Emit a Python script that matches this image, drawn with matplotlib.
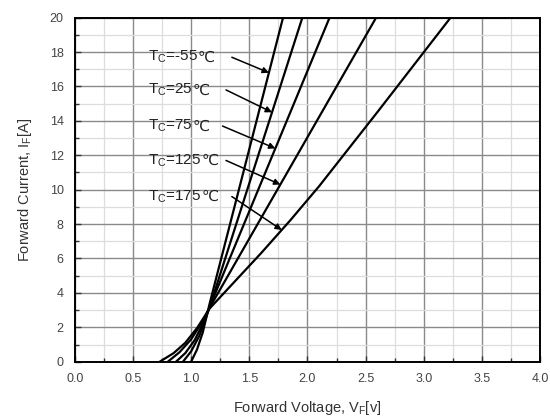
import numpy as np
import matplotlib
matplotlib.use("Agg")
import matplotlib.pyplot as plt
from matplotlib.ticker import MultipleLocator, FormatStrFormatter

plt.rcParams['font.family'] = ['Liberation Sans', 'DejaVu Sans']
plt.rcParams['mathtext.fontset'] = 'custom'
plt.rcParams['mathtext.rm'] = 'Liberation Sans'
plt.rcParams['mathtext.default'] = 'regular'

# forward voltage / current points, one list per case temperature
temps = ['-55', '25', '75', '125', '175']
v_m55 = [1.00, 1.05, 1.10, 1.16, 1.79]
i_m55 = [0.0, 0.7, 1.7, 3.4, 20.0]
v_25 = [0.93, 1.00, 1.07, 1.12, 1.17, 1.956]
i_25 = [0.0, 0.6, 1.5, 2.4, 3.4, 20.0]
v_75 = [0.87, 0.95, 1.03, 1.10, 1.16, 2.19]
i_75 = [0.0, 0.5, 1.25, 2.2, 3.2, 20.0]
v_125 = [0.80, 0.90, 1.00, 1.08, 1.16, 2.59]
i_125 = [0.0, 0.55, 1.3, 2.15, 3.15, 20.0]
v_175 = [0.73, 0.85, 0.95, 1.05, 1.16, 1.60, 1.85, 2.10, 2.60, 3.23]
i_175 = [0.0, 0.5, 1.1, 1.95, 3.1, 6.3, 8.2, 10.2, 14.5, 20.0]

volts = [v_m55, v_25, v_75, v_125, v_175]
amps = [i_m55, i_25, i_75, i_125, i_175]

# label anchor (V, I) and the current where each arrow meets its curve
label_v = [0.63, 0.63, 0.63, 0.63, 0.63]
label_i = [17.7, 15.8, 13.7, 11.7, 9.6]
arrow_start_v = [1.35, 1.30, 1.27, 1.30, 1.35]
arrow_tip_i = [16.8, 14.5, 12.4, 10.3, 7.66]

fig = plt.figure(figsize=(5.5, 4.17), dpi=100)
ax = fig.add_axes([0.136, 0.1326, 0.846, 0.825])

for v, i in zip(volts, amps):
    ax.plot(v, i, color='black', lw=1.6, zorder=3)

for k, t in enumerate(temps):
    tip_v = np.interp(arrow_tip_i[k], amps[k], volts[k])
    lab = ax.text(label_v[k], label_i[k], r'T$_C$=' + t, fontsize=11,
                  va='center', ha='left', color='#222222', zorder=4)
    ax.annotate('℃', xy=(1, 0.5), xycoords=lab, va='center', ha='left',
                fontsize=11, color='#222222', family=['DejaVu Sans'], zorder=4)
    ax.annotate('', xy=(tip_v, arrow_tip_i[k]),
                xytext=(arrow_start_v[k], label_i[k]),
                arrowprops=dict(arrowstyle='-|>', color='black', lw=1.1,
                                mutation_scale=9, shrinkA=0, shrinkB=0),
                zorder=4)

ax.set_xlim(0, 4)
ax.set_ylim(0, 20)
ax.xaxis.set_major_locator(MultipleLocator(0.5))
ax.xaxis.set_minor_locator(MultipleLocator(0.25))
ax.yaxis.set_major_locator(MultipleLocator(2))
ax.yaxis.set_minor_locator(MultipleLocator(1))
ax.xaxis.set_major_formatter(FormatStrFormatter('%.1f'))

ax.grid(which='major', color='#8a8a8a', lw=1.0, zorder=1)
ax.grid(which='minor', color='#dddddd', lw=0.9, zorder=0)
ax.set_axisbelow(True)

ax.tick_params(which='both', direction='in', top=False, right=False,
               labelsize=9, labelcolor='#444444', color='#333333')
ax.tick_params(which='major', length=4, width=1, pad=8)
ax.tick_params(which='minor', length=3, width=1)
for s in ax.spines.values():
    s.set_linewidth(1.4)

ax.set_xlabel(r'Forward Voltage, V$_F$[v]', fontsize=10.5, color='#333333', labelpad=10)
ax.set_ylabel(r'Forward Current, I$_F$[A]', fontsize=10.5, color='#333333', labelpad=11)

fig.savefig('out.png', dpi=100)
